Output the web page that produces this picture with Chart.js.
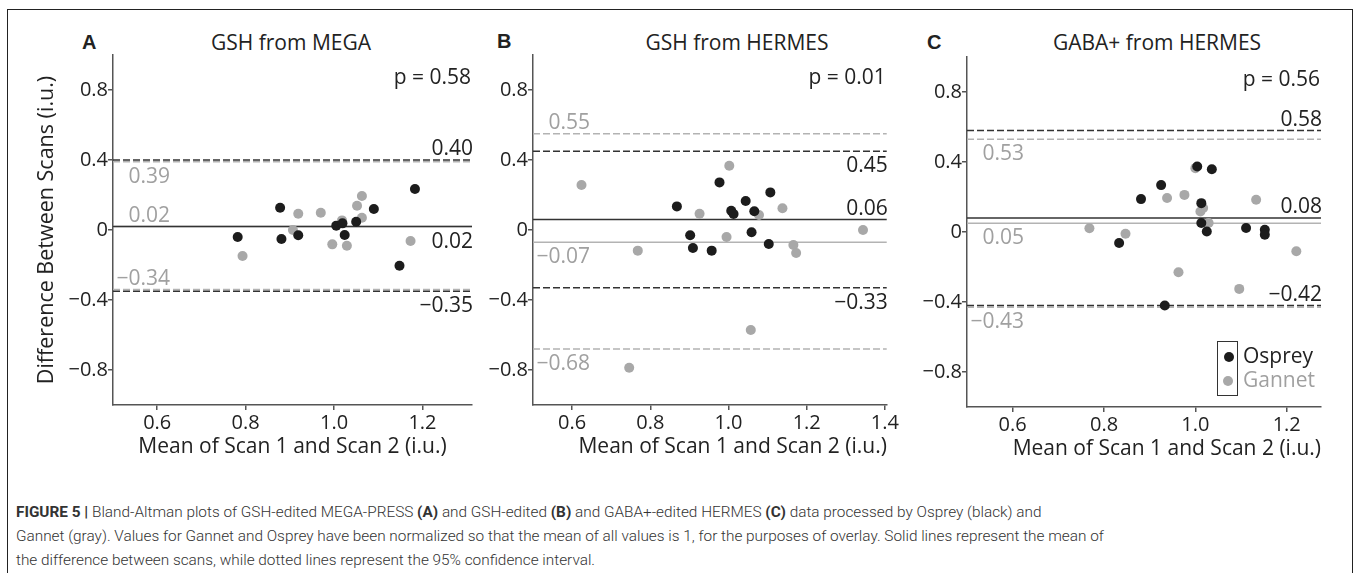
<!DOCTYPE html>
<html>
<head>
<meta charset="utf-8">
<script src="https://cdn.jsdelivr.net/npm/chart.js@4.4.1/dist/chart.umd.min.js"></script>
<style>
  html, body { margin: 0; padding: 0; background: #fff; }
  body { width: 1357px; height: 573px; position: relative; overflow: hidden; font-family: "Open Sans", sans-serif; }
  .frame { position: absolute; left: 7px; top: 9px; width: 1346px; height: 620px; border: 1.5px solid #222; box-sizing: border-box; }
  canvas { position: absolute; }
  .txt { position: absolute; white-space: nowrap; color: #222; }
  .letter { font-family: "Liberation Sans", Arial, sans-serif; font-weight: bold; font-size: 20px; line-height: 20px; }
  .title { font-size: 21px; line-height: 24px; transform: translateX(-50%); }
  .legend-box { position: absolute; left: 1217px; top: 341px; width: 21px; height: 55px; border: 1px solid #333; box-sizing: border-box; }
  .dot { position: absolute; width: 10px; height: 10px; border-radius: 50%; }
  .caption { position: absolute; left: 16px; top: 500px; font-family: Roboto, "Liberation Sans", sans-serif; font-weight: 300; font-size: 15.35px; line-height: 24px; color: #333; white-space: nowrap; }
</style>
</head>
<body>
<div class="frame"></div>

<div class="txt letter" style="left:82px; top:32px;">A</div>
<div class="txt letter" style="left:497px; top:31px;">B</div>
<div class="txt letter" style="left:927px; top:32px;">C</div>

<div class="txt title" style="left:291px; top:30px;">GSH from MEGA</div>
<div class="txt title" style="left:737px; top:30px;">GSH from HERMES</div>
<div class="txt title" style="left:1157px; top:30px;">GABA+ from HERMES</div>

<canvas id="chartA" width="480" height="470" style="left:0px; top:0px;"></canvas>
<canvas id="chartB" width="420" height="470" style="left:480px; top:0px;"></canvas>
<canvas id="chartC" width="445" height="470" style="left:900px; top:2px;"></canvas>

<div class="legend-box"></div>
<div class="dot" style="left:1224px; top:352px; background:#1c1c1c;"></div>
<div class="dot" style="left:1223px; top:376px; background:#a8a8a8;"></div>
<div class="txt" style="left:1243px; top:343px; font-size:21px; line-height:24px; color:#222;">Osprey</div>
<div class="txt" style="left:1243px; top:367px; font-size:21px; line-height:24px; color:#a0a0a0;">Gannet</div>

<div class="caption">
  <b style="font-weight:700;">FIGURE 5 |</b> Bland-Altman plots of GSH-edited MEGA-PRESS <b style="font-weight:700;">(A)</b> and GSH-edited <b style="font-weight:700;">(B)</b> and GABA+-edited HERMES <b style="font-weight:700;">(C)</b> data processed by Osprey (black) and<br>
  Gannet (gray). Values for Gannet and Osprey have been normalized so that the mean of all values is 1, for the purposes of overlay. Solid lines represent the mean of<br>
  the difference between scans, while dotted lines represent the 95% confidence interval.
</div>

<script>
// tick labels
const yTicks = [-0.8, -0.4, 0, 0.4, 0.8];
const xTicksA = [0.6, 0.8, 1.0, 1.2];
const xTicksB = [0.6, 0.8, 1.0, 1.2, 1.4];
const xTicksC = [0.6, 0.8, 1.0, 1.2];

// panel A - GSH from MEGA
const aOspreyX = [0.782, 0.878, 0.881, 0.919, 1.005, 1.019, 1.024, 1.050, 1.090, 1.148, 1.183];
const aOspreyY = [-0.040, 0.127, -0.051, -0.030, 0.025, 0.038, -0.029, 0.047, 0.120, -0.204, 0.234];
const aGannetX = [0.793, 0.907, 0.919, 0.970, 0.996, 1.018, 1.029, 1.052, 1.063, 1.063, 1.173];
const aGannetY = [-0.149, 0.000, 0.093, 0.099, -0.082, 0.055, -0.090, 0.139, 0.194, 0.070, -0.063];
const aOspreyLimits = [0.40, 0.02, -0.35]; // upper, mean, lower
const aGannetLimits = [0.39, 0.02, -0.34];

// panel B - GSH from HERMES
const bOspreyX = [0.868, 0.902, 0.909, 0.957, 0.977, 1.007, 1.013, 1.044, 1.059, 1.066, 1.103, 1.107];
const bOspreyY = [0.135, -0.030, -0.103, -0.118, 0.272, 0.110, 0.091, 0.166, -0.013, 0.107, -0.080, 0.215];
const bGannetX = [0.624, 0.746, 0.768, 0.926, 0.995, 1.002, 1.057, 1.078, 1.138, 1.166, 1.173, 1.344];
const bGannetY = [0.257, -0.787, -0.118, 0.093, -0.040, 0.367, -0.571, 0.086, 0.124, -0.086, -0.131, 0.000];
const bOspreyLimits = [0.45, 0.06, -0.33];
const bGannetLimits = [0.55, -0.07, -0.68];

// panel C - GABA+ from HERMES
const cOspreyX = [0.833, 0.881, 0.925, 0.933, 1.004, 1.013, 1.013, 1.025, 1.036, 1.111, 1.152, 1.152];
const cOspreyY = [-0.063, 0.188, 0.268, -0.420, 0.374, 0.165, 0.051, 0.003, 0.359, 0.023, 0.013, -0.015];
const cGannetX = [0.768, 0.847, 0.938, 0.963, 0.976, 1.000, 1.011, 1.017, 1.029, 1.096, 1.133, 1.221];
const cGannetY = [0.021, -0.010, 0.194, -0.230, 0.212, 0.365, 0.117, 0.137, 0.051, -0.325, 0.184, -0.110];
const cOspreyLimits = [0.58, 0.08, -0.42];
const cGannetLimits = [0.53, 0.05, -0.43];

const pValues = ['0.58', '0.01', '0.56'];

const BLACK = '#1c1c1c';
const GRAY = '#a8a8a8';
const LINE_BLACK = '#333333';
const LINE_GRAY = '#b3b3b3';
const TEXT_BLACK = '#222222';
const TEXT_GRAY = '#a0a0a0';
const FONT = '"Open Sans", sans-serif';

const fmt = (v, digits) => {
    if (v === 0) return '0';
    const s = Math.abs(v).toFixed(digits);
    return v < 0 ? '\u2212' + s : s;
};

const toPoints = (xs, ys) => xs.map((x, i) => ({ x: x, y: ys[i] }));

// draws the limit labels and the p value, reading pixel positions from the y scale
const limitLabels = {
    id: 'limitLabels',
    afterDatasetsDraw(chart, args, opts) {
        const { ctx, chartArea, scales } = chart;
        ctx.save();
        ctx.font = '21px ' + FONT;
        ctx.textBaseline = 'alphabetic';
        opts.osprey.forEach((v, i) => {
            const py = scales.y.getPixelForValue(v);
            ctx.fillStyle = TEXT_BLACK;
            ctx.textAlign = 'right';
            ctx.fillText(fmt(v, 2), chartArea.right + 1, opts.ospreyAbove[i] ? py - 5 : py + 21);
        });
        opts.gannet.forEach((v, i) => {
            const py = scales.y.getPixelForValue(v);
            ctx.fillStyle = TEXT_GRAY;
            ctx.textAlign = 'right';
            ctx.fillText(fmt(v, 2), chartArea.left + 57, opts.gannetAbove[i] ? py - 5 : py + 21);
        });
        ctx.fillStyle = TEXT_BLACK;
        ctx.textAlign = 'right';
        ctx.fillText('p = ' + opts.p, chartArea.right - 1, chartArea.top + 29);
        ctx.restore();
    }
};

function limitLine(v, xMin, xMax, color, dashed) {
    return {
        type: 'line',
        data: [{ x: xMin, y: v }, { x: xMax, y: v }],
        borderColor: color,
        borderWidth: 1.5,
        borderDash: dashed ? [7, 3] : [],
        pointRadius: 0,
        fill: false,
        order: 3
    };
}

function makePanel(cfg) {
    const lines = [];
    [[cfg.osprey, LINE_BLACK], [cfg.gannet, LINE_GRAY]].forEach(([vals, color]) => {
        vals.forEach((v, i) => lines.push(limitLine(v, cfg.xMin, cfg.xMax, color, i !== 1)));
    });

    new Chart(document.getElementById(cfg.id), {
        type: 'scatter',
        data: {
            datasets: [
                ...lines,
                { data: cfg.gannetPts, backgroundColor: GRAY, borderWidth: 0, pointRadius: 5, order: 1 },
                { data: cfg.ospreyPts, backgroundColor: BLACK, borderWidth: 0, pointRadius: 5, order: 0 }
            ]
        },
        options: {
            responsive: false,
            animation: false,
            events: [],
            layout: { padding: { top: 55, right: cfg.padRight, left: 0, bottom: 0 } },
            plugins: {
                legend: { display: false },
                tooltip: { enabled: false },
                limitLabels: {
                    osprey: cfg.osprey, gannet: cfg.gannet,
                    ospreyAbove: cfg.ospreyAbove, gannetAbove: cfg.gannetAbove,
                    p: cfg.p
                }
            },
            scales: {
                x: {
                    type: 'linear',
                    min: cfg.xMin,
                    max: cfg.xMax,
                    afterBuildTicks: s => { s.ticks = cfg.xTicks.map(v => ({ value: v })); },
                    afterFit: s => { s.height = 65; },
                    ticks: { callback: v => fmt(v, 1), font: { family: FONT, size: 20 }, color: TEXT_BLACK, padding: 1, maxRotation: 0 },
                    grid: { drawOnChartArea: false, drawTicks: true, tickLength: 5, color: '#555', lineWidth: 1.5 },
                    border: { display: true, color: '#555', width: 1.5 },
                    title: {
                        display: true,
                        text: 'Mean of Scan 1 and Scan 2 (i.u.)',
                        align: cfg.xTitleAlign,
                        color: TEXT_BLACK,
                        font: { family: FONT, size: 21 },
                        padding: { top: 0, bottom: 10 }
                    }
                },
                y: {
                    type: 'linear',
                    min: -1,
                    max: 1,
                    afterBuildTicks: s => { s.ticks = yTicks.map(v => ({ value: v })); },
                    afterFit: s => { s.width = cfg.yWidth; },
                    ticks: { callback: v => fmt(v, 1), font: { family: FONT, size: 20 }, color: TEXT_BLACK, padding: 0 },
                    grid: { drawOnChartArea: false, drawTicks: true, tickLength: 5, color: '#555', lineWidth: 1.5 },
                    border: { display: true, color: '#555', width: 1.5 },
                    title: {
                        display: cfg.yTitle,
                        text: 'Difference Between Scans (i.u.)',
                        color: TEXT_BLACK,
                        font: { family: FONT, size: 21.5 },
                        padding: { top: 34, bottom: 0 }
                    }
                }
            }
        },
        plugins: [limitLabels]
    });
}

makePanel({
    id: 'chartA', xMin: 0.5, xMax: 1.312, xTicks: xTicksA, yWidth: 113, padRight: 8,
    ospreyPts: toPoints(aOspreyX, aOspreyY), gannetPts: toPoints(aGannetX, aGannetY),
    osprey: aOspreyLimits, gannet: aGannetLimits,
    ospreyAbove: [true, false, false], gannetAbove: [false, true, true],
    p: pValues[0], yTitle: true, xTitleAlign: 'center'
});

makePanel({
    id: 'chartB', xMin: 0.5, xMax: 1.405, xTicks: xTicksB, yWidth: 53, padRight: 8,
    ospreyPts: toPoints(bOspreyX, bOspreyY), gannetPts: toPoints(bGannetX, bGannetY),
    osprey: bOspreyLimits, gannet: bGannetLimits,
    ospreyAbove: [false, true, false], gannetAbove: [true, false, false],
    p: pValues[1], yTitle: false, xTitleAlign: 'end'
});

makePanel({
    id: 'chartC', xMin: 0.5, xMax: 1.275, xTicks: xTicksC, yWidth: 67, padRight: 24,
    ospreyPts: toPoints(cOspreyX, cOspreyY), gannetPts: toPoints(cGannetX, cGannetY),
    osprey: cOspreyLimits, gannet: cGannetLimits,
    ospreyAbove: [true, true, true], gannetAbove: [false, false, false],
    p: pValues[2], yTitle: false, xTitleAlign: 'end'
});
</script>
</body>
</html>
